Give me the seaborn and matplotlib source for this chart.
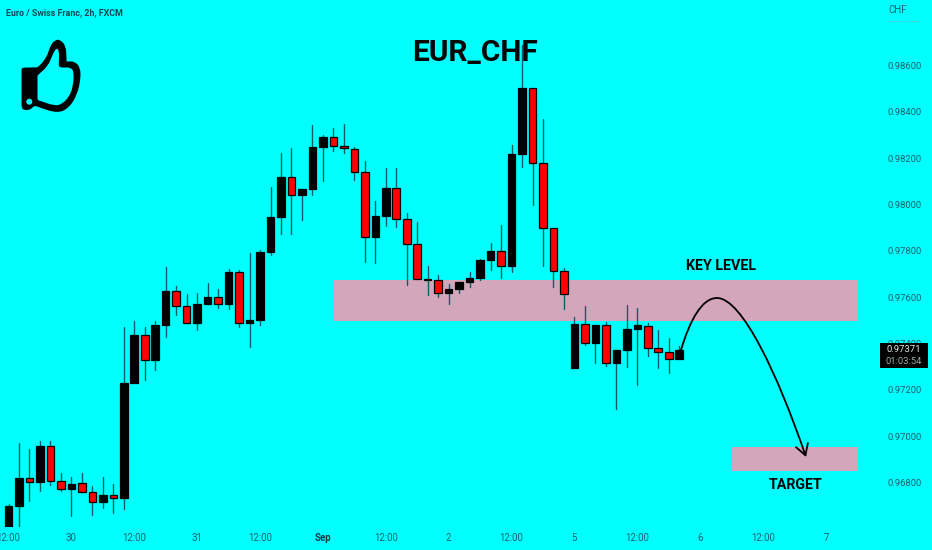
"""EUR/CHF 2h candlestick chart with key level and target zones"""

import matplotlib

matplotlib.use("Agg")

import matplotlib.pyplot as plt
import pandas as pd
import seaborn as sns
from matplotlib.patches import Ellipse, FancyArrowPatch, PathPatch, Rectangle
from matplotlib.path import Path

# Candles, oldest first
opens = [
    0.96609, 0.96697, 0.96820, 0.96800, 0.96957, 0.96805, 0.96771, 0.96796, 0.96757, 0.96714,
    0.96746, 0.96731, 0.97228, 0.97435, 0.97328, 0.97481, 0.97627, 0.97561, 0.97487, 0.97571,
    0.97601, 0.97571, 0.97707, 0.97487, 0.97500, 0.97796, 0.97945, 0.98119, 0.98039, 0.98065,
    0.98248, 0.98289, 0.98251, 0.98240, 0.98139, 0.97858, 0.97951, 0.98072, 0.97935, 0.97828,
    0.97677, 0.97673, 0.97617, 0.97633, 0.97666, 0.97682, 0.97760, 0.97799, 0.97734, 0.98217,
    0.98503, 0.98177, 0.97897, 0.97713, 0.97294, 0.97484, 0.97402, 0.97479, 0.97314, 0.97371,
    0.97461, 0.97477, 0.97379, 0.97362, 0.97333,
]
highs = [
    0.96707, 0.96971, 0.96944, 0.96977, 0.96977, 0.96839, 0.96822, 0.96839, 0.96784, 0.96825,
    0.96793, 0.97472, 0.97497, 0.97469, 0.97497, 0.97728, 0.97648, 0.97613, 0.97616, 0.97659,
    0.97635, 0.97720, 0.97717, 0.97791, 0.97803, 0.98074, 0.98223, 0.98242, 0.98065, 0.98341,
    0.98298, 0.98331, 0.98348, 0.98246, 0.98188, 0.98016, 0.98156, 0.98156, 0.97961, 0.97923,
    0.97733, 0.97694, 0.97656, 0.97666, 0.97707, 0.97765, 0.97832, 0.97911, 0.98255, 0.98688,
    0.98503, 0.98368, 0.97897, 0.97724, 0.97515, 0.97563, 0.97481, 0.97491, 0.97371, 0.97567,
    0.97554, 0.97489, 0.97458, 0.97422, 0.97389,
]
lows = [
    0.96609, 0.96609, 0.96721, 0.96762, 0.96789, 0.96762, 0.96655, 0.96757, 0.96658, 0.96691,
    0.96667, 0.96687, 0.97228, 0.97242, 0.97285, 0.97426, 0.97521, 0.97487, 0.97458, 0.97571,
    0.97554, 0.97550, 0.97472, 0.97386, 0.97481, 0.97781, 0.97871, 0.97871, 0.97932, 0.98039,
    0.98102, 0.98232, 0.98220, 0.98105, 0.97752, 0.97746, 0.97907, 0.97904, 0.97652, 0.97677,
    0.97609, 0.97601, 0.97569, 0.97619, 0.97643, 0.97674, 0.97717, 0.97681, 0.97709, 0.98162,
    0.97997, 0.97734, 0.97645, 0.97550, 0.97294, 0.97392, 0.97317, 0.97302, 0.97116, 0.97299,
    0.97219, 0.97347, 0.97292, 0.97271, 0.97333,
]
closes = [
    0.96698, 0.96820, 0.96800, 0.96958, 0.96805, 0.96771, 0.96794, 0.96757, 0.96714, 0.96746,
    0.96731, 0.97228, 0.97435, 0.97328, 0.97481, 0.97627, 0.97561, 0.97487, 0.97571, 0.97601,
    0.97571, 0.97707, 0.97487, 0.97500, 0.97796, 0.97945, 0.98119, 0.98039, 0.98065, 0.98248,
    0.98289, 0.98253, 0.98242, 0.98141, 0.97858, 0.97951, 0.98072, 0.97938, 0.97830, 0.97677,
    0.97674, 0.97617, 0.97633, 0.97666, 0.97682, 0.97760, 0.97799, 0.97734, 0.98217, 0.98503,
    0.98180, 0.97899, 0.97714, 0.97614, 0.97484, 0.97403, 0.97481, 0.97314, 0.97371, 0.97461,
    0.97479, 0.97381, 0.97364, 0.97333, 0.97371,
]

# Axis labels
time_ticks = [0, 6, 12, 18, 24, 30, 36, 42, 48, 54, 60, 66, 72, 78]
time_labels = ["12:00", "30", "12:00", "31", "12:00", "Sep", "12:00", "2", "12:00", "5", "12:00", "6", "12:00", "7"]
price_ticks = [0.968, 0.970, 0.972, 0.974, 0.976, 0.978, 0.980, 0.982, 0.984, 0.986]

# Zones as (first slot, last slot, low price, high price)
key_zone = (31.06, 81.06, 0.97497, 0.97675)
target_zone = (69.06, 81.06, 0.96848, 0.96953)

# Arrow and thumb outline, in pixels from the top left of the picture
arrow_px = [(681, 350), (690, 320), (702, 298), (717, 298), (742, 298), (778, 375), (806, 457)]
thumb_outer_px = [
    (21.5, 72), (21.5, 68.5), (23.5, 67.5), (36, 67.5), (38.5, 67), (47, 57), (50, 46), (55, 40), (60, 39.5), (66, 46),
    (66.5, 59), (66.5, 61.5), (68, 61.5), (75, 61.5), (80.5, 68), (80.5, 80), (77, 95), (69, 108), (57, 113.5), (36, 106),
    (34, 106), (30, 110), (24, 110), (21.5, 108), (21.5, 100),
]
thumb_inner_px = [
    (37.5, 80), (37.5, 75.5), (38, 75), (48, 66), (52.5, 55), (56, 48), (59, 50), (59, 60), (58.5, 67.5), (66, 67.5), (70, 67.5),
    (74, 71), (73, 87), (69, 97), (62, 104), (55, 106), (39, 100.5), (37.5, 100), (37.5, 95),
]

BG = "#00FFFF"
AXIS_TEXT = "#17636a"
ZONE = "#D3A6BC"
W, H = 932, 550
PLOT_W, PLOT_H = 880, 527

sns.set_theme(style="white", rc={"axes.facecolor": BG, "figure.facecolor": BG})
plt.rcParams["font.family"] = ["Roboto", "DejaVu Sans"]

candles = pd.DataFrame({"open": opens, "high": highs, "low": lows, "close": closes})
candles["slot"] = candles.index
candles["bottom"] = candles[["open", "close"]].min(axis=1)
candles["height"] = (candles["close"] - candles["open"]).abs()
rising = candles[candles["close"] >= candles["open"]]
falling = candles[candles["close"] < candles["open"]]
wicks = candles.melt(id_vars="slot", value_vars=["low", "high"], value_name="price")

fig = plt.figure(figsize=(W / 100, H / 100), dpi=100)
ax = fig.add_axes([0, 1 - PLOT_H / H, PLOT_W / W, PLOT_H / H])

# Same scale as the picture: slot 0 sits at x=8.5 and one slot is 10.48 px
x_range = (-8.5 / 10.48, (PLOT_W - 8.5) / 10.48)
y_range = (0.98882 - 0.00004316 * PLOT_H, 0.98882)

for first, last, low, high in (key_zone, target_zone):
    ax.add_patch(Rectangle((first, low), last - first, high - low, facecolor=ZONE, edgecolor="none", zorder=1))

sns.lineplot(
    data=wicks, x="slot", y="price", units="slot", estimator=None, sort=False,
    color="#0b5f62", linewidth=1, zorder=2, legend=False, ax=ax,
)
for part, colour in ((rising, "black"), (falling, "#FF0000")):
    sns.barplot(
        x=part["slot"].to_numpy(), y=part["height"].to_numpy(), bottom=part["bottom"].to_numpy(),
        native_scale=True, width=0.72, color=colour, saturation=1, errorbar=None,
        edgecolor="black", linewidth=0.9, zorder=3, ax=ax,
    )

ax.set_xlim(x_range)
ax.set_ylim(y_range)
ax.set(xlabel="", ylabel="")
sns.despine(ax=ax, left=True, bottom=True)
ax.yaxis.tick_right()
ax.set_xticks(time_ticks, time_labels)
ax.set_yticks(price_ticks, [f"{p:.5f}" for p in price_ticks])
ax.tick_params(axis="x", length=0, pad=4.2, labelsize=6.9, labelcolor=AXIS_TEXT)
ax.tick_params(axis="y", length=0, pad=5.4, labelsize=6.8, labelcolor=AXIS_TEXT)
for label in ax.get_xticklabels():
    if label.get_text() == "Sep":
        label.set_fontweight("bold")
        label.set_color("#0c3c40")


def to_fig(points):
    # picture pixels to figure fractions
    return [(x / W, 1 - y / H) for x, y in points]


def smooth_closed(points):
    # closed curve with the given points as quadratic control points
    pts = to_fig(points)
    mids = [((a[0] + b[0]) / 2, (a[1] + b[1]) / 2) for a, b in zip(pts, pts[1:] + pts[:1])]
    verts, codes = [mids[-1]], [Path.MOVETO]
    for ctrl, mid in zip(pts, mids):
        verts += [ctrl, mid]
        codes += [Path.CURVE3, Path.CURVE3]
    return Path(verts, codes)


# Arrow from the last candle down to the target zone
fig.add_artist(FancyArrowPatch(
    path=Path(to_fig(arrow_px), [Path.MOVETO] + [Path.CURVE4] * 6),
    arrowstyle="->,head_length=6,head_width=3.5", color="black",
    linewidth=1.3, mutation_scale=1.3, zorder=5, transform=fig.transFigure,
))

# Thumbs up icon
fig.add_artist(PathPatch(smooth_closed(thumb_outer_px), facecolor="black", edgecolor="none", transform=fig.transFigure, zorder=5))
fig.add_artist(PathPatch(smooth_closed(thumb_inner_px), facecolor=BG, edgecolor="none", transform=fig.transFigure, zorder=6))
fig.add_artist(Ellipse((29.3 / W, 1 - 101.7 / H), 6 / W, 6 / H, transform=fig.transFigure, facecolor=BG, edgecolor="none", zorder=7))

# Chart texts, placed in figure fractions
fig.text(475 / W, 1 - 53 / H, "EUR_CHF", ha="center", va="center", fontsize=21.5, fontweight="bold", color="#050505", zorder=7)
fig.text(720.5 / W, 1 - 266 / H, "KEY LEVEL", ha="center", va="center", fontsize=10.3, fontweight="bold", color="#050505", zorder=7)
fig.text(795.5 / W, 1 - 485 / H, "TARGET", ha="center", va="center", fontsize=10.3, fontweight="bold", color="#050505", zorder=7)
fig.text(6 / W, 1 - 13 / H, "Euro / Swiss Franc, 2h, FXCM", ha="left", va="center", fontsize=6.4, fontweight="bold", color="#0c4a50", zorder=7)
fig.text(888 / W, 1 - 10 / H, "CHF", ha="left", va="center", fontsize=7, color=AXIS_TEXT, zorder=7)
fig.add_artist(plt.Line2D([888 / W, 921 / W], [1 - 21 / H, 1 - 21 / H], color="#5fb5b8", linewidth=0.6, linestyle=(0, (2, 2))))

# Last price tag
fig.add_artist(Rectangle((880 / W, 1 - 368 / H), 48 / W, 25 / H, transform=fig.transFigure, facecolor="black", edgecolor="none", zorder=7))
fig.text(904 / W, 1 - 350 / H, "0.97371", ha="center", va="center", fontsize=6.8, color="#d8e8e8", zorder=8)
fig.text(904 / W, 1 - 361 / H, "01:03:54", ha="center", va="center", fontsize=6.8, color="#9aa8a8", zorder=8)

fig.savefig("out.png", dpi=100, facecolor=BG)
